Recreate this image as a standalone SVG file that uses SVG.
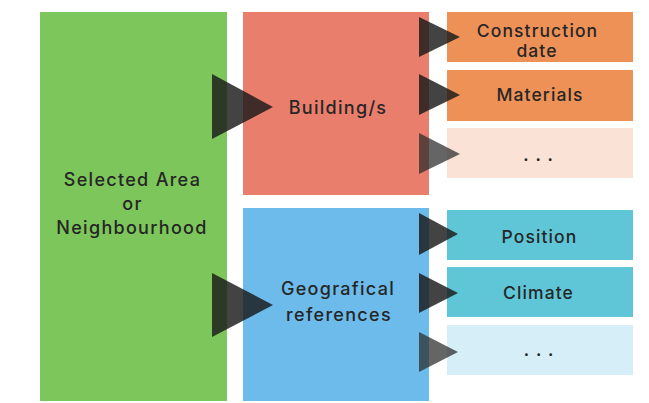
<svg xmlns="http://www.w3.org/2000/svg" width="649" height="403" viewBox="0 0 649 403">
<style>
text{font-family:Inter,"Liberation Sans",sans-serif;fill:#262626;text-anchor:middle;font-weight:500}
.big{font-size:18px;letter-spacing:1.3px}
.sm{font-size:17.5px;letter-spacing:1.1px}
.dots{font-size:16px;letter-spacing:6.8px;font-weight:700}
.arr{fill:#1a1a1a;fill-opacity:0.82}
.arrl{fill:#2a2a2a;fill-opacity:0.72}
</style>
<rect width="649" height="403" fill="#ffffff"/>
<g id="area">
<rect x="40" y="12" width="187" height="389" fill="#7dc65b"/>
<text class="big" x="132.5" y="186">Selected Area</text>
<text class="big" x="132.5" y="210">or</text>
<text class="big" x="132" y="234">Neighbourhood</text>
</g>
<g id="buildings">
<rect x="243" y="12" width="186" height="183" fill="#ea7e6c"/>
<text class="big" x="338" y="114">Building/s</text>
</g>
<g id="geo">
<rect x="243" y="208" width="186" height="193" fill="#6cbbea"/>
<text class="big" x="338" y="295">Geografical</text>
<text class="big" x="339" y="321">references</text>
</g>
<g id="construction">
<rect x="447" y="12" width="186" height="50" fill="#ee9157"/>
<text class="sm" x="537.5" y="37">Construction</text>
<text class="sm" x="537" y="56.5">date</text>
</g>
<g id="materials">
<rect x="447" y="70" width="186" height="51" fill="#ee9157"/>
<text class="sm" x="540" y="100.5">Materials</text>
</g>
<g id="more-building">
<rect x="447" y="128" width="186" height="50" fill="#fae2d6"/>
<text class="dots" x="541.5" y="160.5">...</text>
</g>
<g id="position">
<rect x="447" y="210" width="186" height="50" fill="#5fc6d7"/>
<text class="sm" x="539.5" y="243">Position</text>
</g>
<g id="climate">
<rect x="447" y="267" width="186" height="50" fill="#5fc6d7"/>
<text class="sm" x="538.5" y="299">Climate</text>
</g>
<g id="more-geo">
<rect x="447" y="325" width="186" height="50" fill="#d5eef7"/>
<text class="dots" x="542" y="356">...</text>
</g>
<g id="connectors">
<polygon class="arr" points="212,74 273,107 212,139"/>
<polygon class="arr" points="212,273 273,305 212,337"/>
<polygon class="arr" points="419,17 460,37 419,57"/>
<polygon class="arr" points="419,74 460,95 419,115"/>
<polygon class="arrl" points="419,133 460,154 419,174"/>
<polygon class="arr" points="419,213 458,234 419,255"/>
<polygon class="arr" points="419,273 458,293 419,313"/>
<polygon class="arrl" points="419,332 458,352 419,372"/>
</g>
</svg>
